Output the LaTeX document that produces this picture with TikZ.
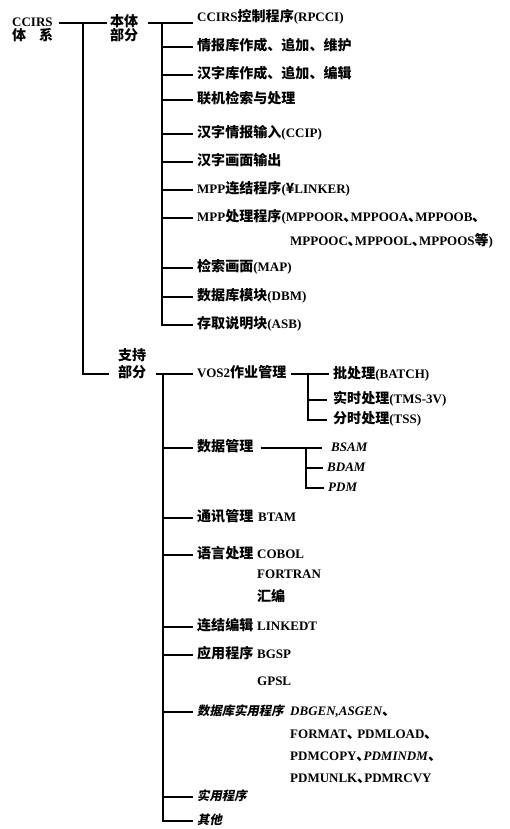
\documentclass[tikz,border=0pt]{standalone}
\usepackage{fontspec}
\setmainfont{Liberation Serif}
\newfontfamily\cjkf{Noto Sans CJK SC}[Scale=1.08]
\newfontfamily\cjksl{Noto Sans CJK SC}[Scale=0.95,FakeSlant=0.2]
\newcommand\zh[1]{{\cjkf\bfseries #1}}
\newcommand\zs[1]{{\cjksl\bfseries #1}}
\newcommand\dun{\zh{､}}
\begin{document}
\begin{tikzpicture}[x=1pt,y=-1pt,
  every node/.style={inner sep=0pt,anchor=west,font=\fontsize{13}{15}\selectfont\bfseries,text height=10pt,text depth=3pt},
  ln/.style={line width=1.3pt}]
\useasboundingbox (0,0) rectangle (510,829);
% level 0 and 1
\node (root) at (12,23) {CCIRS};
\node (rootb) at (12,37) {\zh{体}\hspace{13pt}\zh{系}};
\node (b1a) at (110,23) {\zh{本体}};
\node (b1b) at (110,37) {\zh{部分}};
\node (b2a) at (118,357) {\zh{支持}};
\node (b2b) at (118,374) {\zh{部分}};
\coordinate (t1) at (83,23);
\draw[ln] ([xshift=6pt]root.east) -- ([xshift=-3pt]b1a.west);
\draw[ln] (t1) |- ([xshift=-9pt]b2b.west);
% 本体部分 children
\node (c1) at (197,18) {CCIRS\zh{控制程序}(RPCCI)};
\node (c2) at (197,47) {\zh{情报库作成、追加、维护}};
\node (c3) at (197,75) {\zh{汉字库作成、追加、编辑}};
\node (c4) at (197,100) {\zh{联机检索与处理}};
\node (c5) at (197,134) {\zh{汉字情报输入}(CCIP)};
\node (c6) at (197,162) {\zh{汉字画面输出}};
\node (c7) at (197,190) {MPP\zh{连结程序}(\zh{¥}LINKER)};
\node (c8) at (197,218) {MPP\zh{处理程序}(MPPOOR\dun MPPOOA\dun MPPOOB\dun};
\node (c8b) at (290,242) {MPPOOC\dun MPPOOL\dun MPPOOS\zh{等})};
\node (c9) at (197,268) {\zh{检索画面}(MAP)};
\node (c10) at (197,297) {\zh{数据库模块}(DBM)};
\node (c11) at (197,325) {\zh{存取说明块}(ASB)};
\coordinate (v1) at (162,23);
\draw[ln] ([xshift=10pt]b1a.east) -- ([xshift=-4pt]b1a.east -| c1.west);
\draw[ln] (v1) |- ([xshift=-4pt]c11.west);
\foreach \i in {2,...,10} \draw[ln] (v1 |- c\i.west) -- ([xshift=-4pt]c\i.west);
% 支持部分 children
\node (d1) at (197,374) {VOS2\zh{作业管理}};
\node (d2) at (197,448) {\zh{数据管理}};
\node (d3) at (197,518) {\zh{通讯管理}};
\node (d3x) at (258,518) {BTAM};
\node (d4) at (197,555) {\zh{语言处理}};
\node (d4x) at (257,555) {COBOL};
\node (d4y) at (257,575) {FORTRAN};
\node (d4z) at (257,598) {\zh{汇编}};
\node (d5) at (197,627) {\zh{连结编辑}};
\node (d5x) at (257,627) {LINKEDT};
\node (d6) at (197,655) {\zh{应用程序}};
\node (d6x) at (257,655) {BGSP};
\node (d6y) at (257,682) {GPSL};
\node (d7) at (197,712) {\zs{数据库实用程序}};
\node (d7a) at (290,712) {\itshape DBGEN,ASGEN\dun};
\node (d7b) at (290,735) {FORMAT\dun\ PDMLOAD\dun};
\node (d7c) at (290,757) {PDMCOPY\dun\textit{PDMINDM}\dun};
\node (d7d) at (290,779) {PDMUNLK\dun PDMRCVY};
\node (d8) at (197,797) {\zs{实用程序}};
\node (d9) at (197,821) {\zs{其他}};
\coordinate (v2) at (163,374);
\draw[ln] ([xshift=10pt]b2b.east) -- ([xshift=-4pt]d1.west);
\draw[ln] (v2) |- ([xshift=-4pt]d9.west);
\foreach \i in {2,...,8} \draw[ln] (v2 |- d\i.west) -- ([xshift=-4pt]d\i.west);
% VOS2 sub
\node (e1) at (333,375) {\zh{批处理}(BATCH)};
\node (e2) at (333,400) {\zh{实时处理}(TMS-3V)};
\node (e3) at (333,420) {\zh{分时处理}(TSS)};
\coordinate (v3) at (308,374);
\draw[ln] ([xshift=4pt]d1.east) -- ([xshift=-4pt]d1.east -| e1.west);
\draw[ln] (v3) |- ([xshift=-6pt]e3.west);
\draw[ln] (v3 |- e2.west) -- ([xshift=-6pt]e2.west);
% 数据管理 sub
\node (f1) at (331,448) {\itshape BSAM};
\node (f2) at (327,468) {\itshape BDAM};
\node (f3) at (328,488) {\itshape PDM};
\coordinate (v4) at (306,448);
\draw[ln] ([xshift=7pt]d2.east) -- ([xshift=-9pt]f1.west);
\draw[ln] (v4) |- ([xshift=-4pt]f3.west);
\draw[ln] (v4 |- f2.west) -- ([xshift=-4pt]f2.west);
\end{tikzpicture}
\end{document}
